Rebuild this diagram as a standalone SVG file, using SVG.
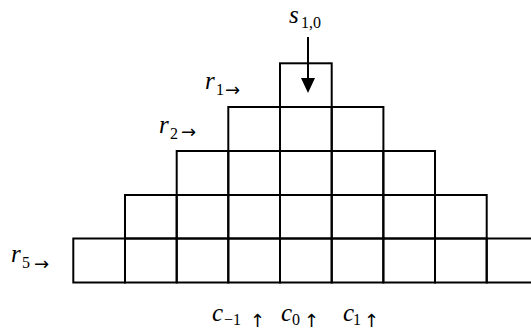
<svg xmlns="http://www.w3.org/2000/svg" width="531" height="331" viewBox="0 0 531 331">
<style>
.cell{fill:none;stroke:#000;stroke-width:2}
.v{font-family:"Liberation Serif","DejaVu Serif",serif;font-style:italic;font-size:25px;fill:#000}
.sub{font-family:"Liberation Serif","DejaVu Serif",serif;font-size:16px;fill:#000}
.ar{font-family:"DejaVu Sans",sans-serif;font-size:18px;fill:#000}
</style>
<rect width="531" height="331" fill="#fff"/>
<g id="row1">
<rect class="cell" x="280" y="63.3" width="51.7" height="43.7"/>
</g>
<g id="row2">
<rect class="cell" x="228.3" y="107" width="51.7" height="44"/>
<rect class="cell" x="280" y="107" width="51.7" height="44"/>
<rect class="cell" x="331.7" y="107" width="51.7" height="44"/>
</g>
<g id="row3">
<rect class="cell" x="176.7" y="151" width="51.6" height="44"/>
<rect class="cell" x="228.3" y="151" width="51.7" height="44"/>
<rect class="cell" x="280" y="151" width="51.7" height="44"/>
<rect class="cell" x="331.7" y="151" width="51.7" height="44"/>
<rect class="cell" x="383.3" y="151" width="51.7" height="44"/>
</g>
<g id="row4">
<rect class="cell" x="125" y="195" width="51.7" height="43.5"/>
<rect class="cell" x="176.7" y="195" width="51.6" height="43.5"/>
<rect class="cell" x="228.3" y="195" width="51.7" height="43.5"/>
<rect class="cell" x="280" y="195" width="51.7" height="43.5"/>
<rect class="cell" x="331.7" y="195" width="51.7" height="43.5"/>
<rect class="cell" x="383.3" y="195" width="51.7" height="43.5"/>
<rect class="cell" x="435" y="195" width="51.7" height="43.5"/>
</g>
<g id="row5">
<rect class="cell" x="73.3" y="238.5" width="51.7" height="44"/>
<rect class="cell" x="125" y="238.5" width="51.7" height="44"/>
<rect class="cell" x="176.7" y="238.5" width="51.6" height="44"/>
<rect class="cell" x="228.3" y="238.5" width="51.7" height="44"/>
<rect class="cell" x="280" y="238.5" width="51.7" height="44"/>
<rect class="cell" x="331.7" y="238.5" width="51.7" height="44"/>
<rect class="cell" x="383.3" y="238.5" width="51.7" height="44"/>
<rect class="cell" x="435" y="238.5" width="51.7" height="44"/>
<rect class="cell" x="486.7" y="238.5" width="51.7" height="44"/>
</g>
<g id="connectors">
<line x1="308" y1="37" x2="308" y2="80" stroke="#000" stroke-width="2"/>
<polygon points="301,78 315,78 308,93" fill="#000"/>
</g>
<g id="labels">
<text class="v" x="289" y="23">s</text><text class="sub" x="301" y="28">1,0</text>
<text class="v" x="205" y="89">r</text><text class="sub" x="216" y="95">1</text><text class="ar" x="225" y="96">→</text>
<text class="v" x="159" y="133">r</text><text class="sub" x="170" y="139">2</text><text class="ar" x="181" y="138">→</text>
<text class="v" x="11" y="262">r</text><text class="sub" x="22" y="268">5</text><text class="ar" x="34" y="270">→</text>
<text class="v" x="212" y="321">c</text><text class="sub" x="224" y="325">−1</text><text class="ar" x="250" y="327">↑</text>
<text class="v" x="281" y="321">c</text><text class="sub" x="292" y="325">0</text><text class="ar" x="304" y="327">↑</text>
<text class="v" x="343" y="321">c</text><text class="sub" x="353" y="325">1</text><text class="ar" x="364" y="327">↑</text>
</g>
</svg>
